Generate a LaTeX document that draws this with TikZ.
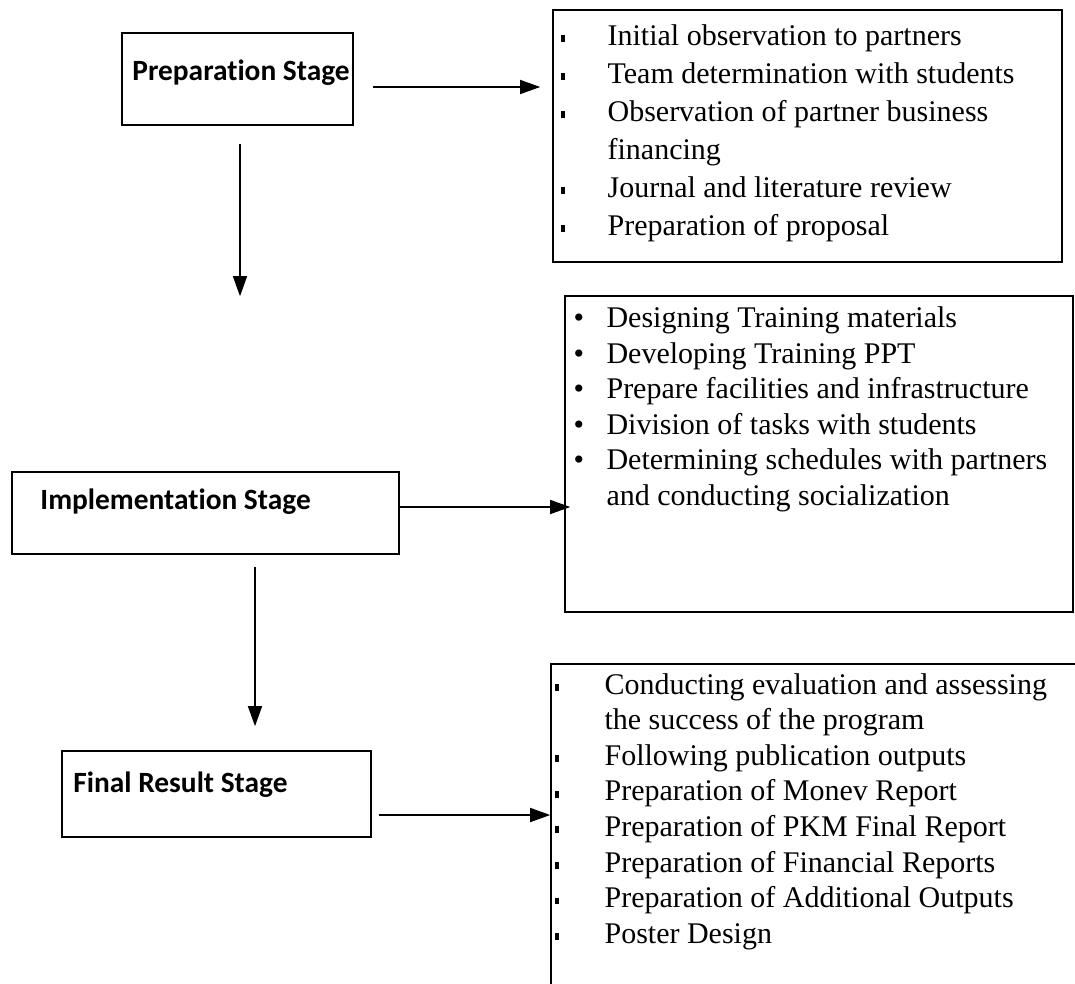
\documentclass[tikz,border=0pt]{standalone}
\usepackage{fontspec}
\setmainfont{Liberation Serif}
\newfontfamily\stagefont[Ligatures=NoCommon]{Carlito}
\usetikzlibrary{arrows.meta}

\tikzset{
  stagebox/.style={draw, line width=0.8pt, inner sep=0pt},
  listbox/.style={draw, line width=0.8pt, inner sep=0pt},
  stagelabel/.style={anchor=base west, inner sep=0pt,
    font=\stagefont\bfseries\fontsize{14.7}{17}\selectfont},
  listtext/.style={anchor=north west, inner sep=0pt},
  arr/.style={line width=0.75pt, -{Triangle[length=10pt,width=7pt]}}
}
\newcommand{\sqbullet}{\raisebox{1.6pt}{\rule{2.4pt}{3.4pt}}}

\begin{document}
\begin{tikzpicture}[x=0.5pt,y=-0.5pt]
    \path[use as bounding box] (0,0) rectangle (1075,984);
    \clip (0,0) rectangle (1075,984);

    % stage boxes
    \node[stagebox, minimum width=115.5pt, minimum height=46pt] (prep) at (237.5,79) {};
    \node[stagelabel] (preplabel) at (132,81) {Preparation Stage};

    \node[stagebox, minimum width=193.5pt, minimum height=41pt] (impl) at (205.5,513) {};
    \node[stagelabel] (impllabel) at (40,509) {Implementation Stage};

    \node[stagebox, minimum width=154.5pt, minimum height=43pt] (final) at (216.5,794) {};
    \node[stagelabel] (finallabel) at (73,792) {Final Result Stage};

    % activity boxes
    \node[listbox, minimum width=254.5pt, minimum height=126pt] (prepitems) at (807.5,136) {};
    \node[listtext, font=\fontsize{15}{19}\selectfont] (preptext)
        at ([xshift=4pt,yshift=-4.5pt]prepitems.north west) {\begin{tabular}{@{}p{23.5pt}@{}l@{}}
        \sqbullet & Initial observation to partners\\
        \sqbullet & Team determination with students\\
        \sqbullet & Observation of partner business\\
                  & financing\\
        \sqbullet & Journal and literature review\\
        \sqbullet & Preparation of proposal
    \end{tabular}};

    \node[listbox, minimum width=254pt, minimum height=158pt] (implitems) at (819,454) {};
    \node[listtext, font=\fontsize{15}{17.8}\selectfont] (impltext)
        at ([xshift=4.5pt,yshift=-3.5pt]implitems.north west) {\begin{tabular}{@{}p{16.5pt}@{}l@{}}
        \textbullet & Designing Training materials\\
        \textbullet & Developing Training PPT\\
        \textbullet & Prepare facilities and infrastructure\\
        \textbullet & Division of tasks with students\\
        \textbullet & Determining schedules with partners\\
                    & and conducting socialization
    \end{tabular}};

    \node[listbox, minimum width=272pt, minimum height=173pt] (finalitems) at (823,837) {};
    \node[listtext, font=\fontsize{15}{17.8}\selectfont] (finaltext)
        at ([xshift=2pt,yshift=-2.75pt]finalitems.north west) {\begin{tabular}{@{}p{25pt}@{}l@{}}
        \sqbullet & Conducting evaluation and assessing\\
                  & the success of the program\\
        \sqbullet & Following publication outputs\\
        \sqbullet & Preparation of Monev Report\\
        \sqbullet & Preparation of PKM Final Report\\
        \sqbullet & Preparation of Financial Reports\\
        \sqbullet & Preparation of Additional Outputs\\
        \sqbullet & Poster Design
    \end{tabular}};

    % connectors
    \draw[arr, shorten <=9.5pt, shorten >=6pt] ([yshift=-4pt]prep.east) -- ([yshift=-4pt]prep.east -| prepitems.west);
    \draw[arr, shorten <=9pt, shorten >=87.5pt] ([xshift=1.25pt]prep.south) -- ([xshift=1.25pt]prep.south |- impl.north);
    \draw[arr, shorten >=-3pt] ([yshift=3pt]impl.east) -- ([yshift=3pt]impl.east -| implitems.west);
    \draw[arr, shorten <=6pt, shorten >=12pt] ([xshift=24.75pt]impl.south) -- ([xshift=24.75pt]impl.south |- final.north);
    \draw[arr, shorten <=3.5pt] ([yshift=-10.5pt]final.east) -- ([yshift=-10.5pt]final.east -| finalitems.west);
\end{tikzpicture}
\end{document}
